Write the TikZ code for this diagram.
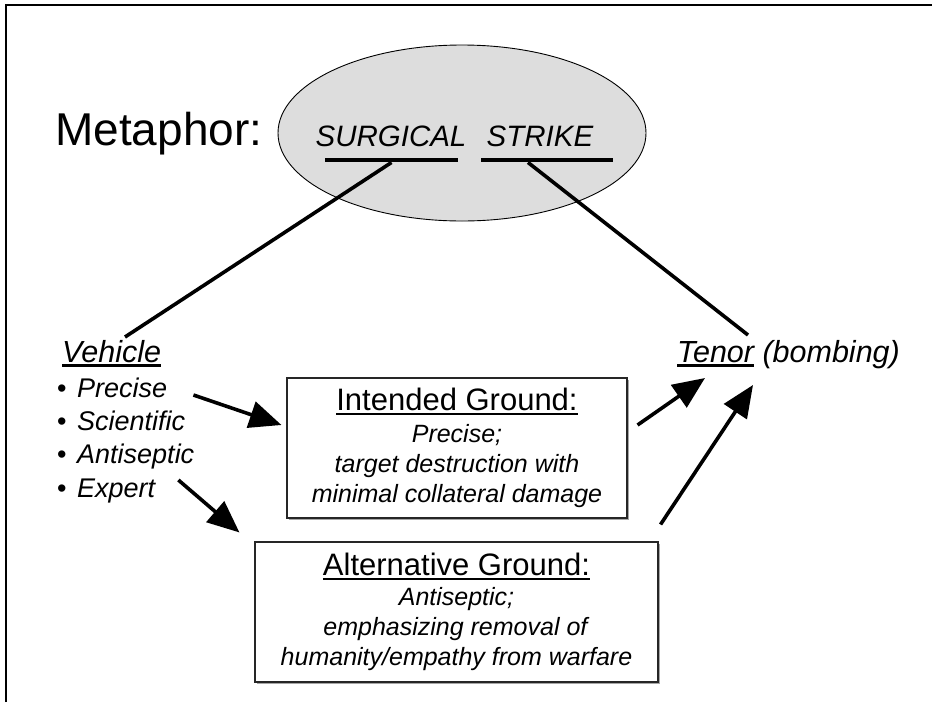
\documentclass[tikz,border=0pt]{standalone}
\usepackage{fontspec}
\setmainfont{Liberation Sans}
\usetikzlibrary{shapes.geometric,arrows.meta,shadows}
\newcommand\fs[1]{\fontsize{#1}{#1}\selectfont}
\newcommand\ulx[1]{\setbox0\hbox{#1}\rlap{\rule[-4.6pt]{\wd0}{2.6pt}}\box0\relax}
\tikzset{
  txt/.style={inner sep=0pt, anchor=base west},
  boxn/.style={draw=black!85, line width=1.1pt, fill=white, inner sep=0pt, align=center,
    font=\fontsize{25}{30}\selectfont,
    drop shadow={shadow xshift=1.6pt, shadow yshift=-1.6pt, fill=black, opacity=0.35}},
  conn/.style={line width=3.6pt},
  arr/.style={line width=3.6pt, -{Triangle[length=32pt,width=27pt]}},
  bar/.style={fill=black, inner sep=0pt, minimum height=4.5pt}
}
\begin{document}
\begin{tikzpicture}[x=1pt,y=1pt]
\useasboundingbox (0,0) rectangle (932,-702);
\fill[white] (0,0) rectangle (932,-702);
\draw[line width=2.2pt] (6,-702) -- (6,-5) -- (932,-5);

\node[txt, font=\fs{46}] (met) at (55,-145) {Metaphor:};
\node[ellipse, draw, line width=0.9pt, fill=gray!27, minimum width=368pt, minimum height=176pt, inner sep=0pt] (ell) at (462,-133) {};
\node[inner sep=0pt, anchor=base, font=\fs{29.5}\itshape] (surg) at (391,-146) {SURGICAL};
\node[inner sep=0pt, anchor=base, font=\fs{29.5}\itshape] (strk) at (540,-146) {STRIKE};
\node[bar, minimum width=133pt] (ul1) at (391.5,-160) {};
\node[bar, minimum width=132pt] (ul2) at (547,-160) {};

\node[txt, font=\fs{30.5}\itshape] (veh) at (62,-362) {\ulx{Vehicle}};
\node[txt, font=\fs{27}] (b1) at (57,-397) {\makebox[20pt][l]{•}\textit{Precise}};
\node[txt, font=\fs{27}] (b2) at (57,-430) {\makebox[20pt][l]{•}\textit{Scientific}};
\node[txt, font=\fs{27}] (b3) at (57,-463) {\makebox[20pt][l]{•}\textit{Antiseptic}};
\node[txt, font=\fs{27}] (b4) at (57,-497) {\makebox[20pt][l]{•}\textit{Expert}};

\node[txt, font=\fs{30.5}\itshape] (tn) at (677,-362) {\ulx{Tenor} (bombing)};

\node[boxn, minimum width=340pt, minimum height=140pt] (ig) at (457,-448)
  {{\fs{31}\ulx{Intended Ground:}}\\[2pt] \textit{Precise;}\\ \textit{target destruction with}\\ \textit{minimal collateral damage}};
\node[boxn, minimum width=403pt, minimum height=140pt] (ag) at (456.5,-612)
  {{\fs{31}\ulx{Alternative Ground:}}\\ \textit{Antiseptic;}\\ \textit{emphasizing removal of}\\ \textit{humanity/empathy from warfare}};

\draw[conn] (ul1.south) -- ([xshift=63pt,yshift=25pt]veh.base west);
\draw[conn] ([xshift=-19pt]ul2.south) -- ([xshift=71pt,yshift=27pt]tn.base west);

\draw[arr] ([xshift=26pt,yshift=2pt]b1.base east) -- ([xshift=-5pt,yshift=23pt]ig.west);
\draw[arr] ([xshift=22pt,yshift=17pt]b4.base east) -- ([xshift=-15pt,yshift=9pt]ag.north west);
\draw[arr] ([xshift=10pt,yshift=23pt]ig.east) -- ([xshift=28pt,yshift=-16pt]tn.base west);
\draw[arr] ([xshift=2pt,yshift=17pt]ag.north east) -- ([xshift=76pt,yshift=-23pt]tn.base west);
\end{tikzpicture}
\end{document}
